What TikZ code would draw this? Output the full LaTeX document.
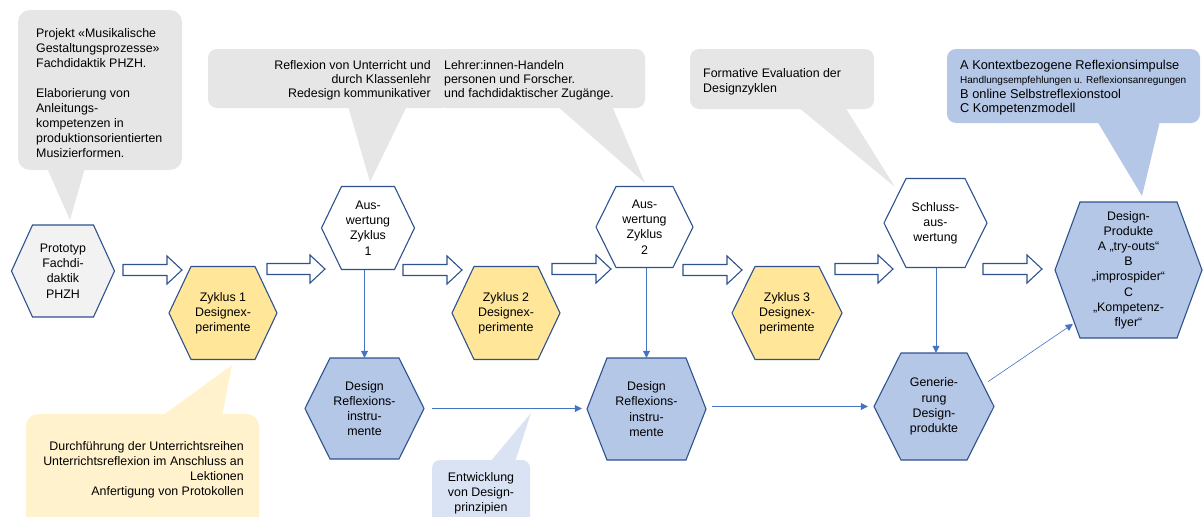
\documentclass[tikz,border=0pt]{standalone}
\usepackage{fontspec}
\setmainfont{Liberation Sans}
\usetikzlibrary{calc,arrows.meta}
\definecolor{hexline}{HTML}{2F528F}
\definecolor{cgray}{HTML}{E7E6E6}
\definecolor{cyellow}{HTML}{FFF2CC}
\definecolor{hyellow}{HTML}{FFE699}
\definecolor{hblue}{HTML}{B4C7E7}
\definecolor{clblue}{HTML}{DAE3F3}
\definecolor{hgray}{HTML}{F2F2F2}
\definecolor{conn}{HTML}{4472C4}
\tikzset{
  hexedge/.style={draw=hexline, line width=1.1pt, line join=miter},
  hexbox/.style={inner sep=0pt, align=center, font=\fontsize{12.4}{15.2}\selectfont},
  txt/.style={inner sep=0pt, font=\fontsize{12.4}{15}\selectfont},
  blockarr/.style={draw=hexline, fill=white, line width=1.1pt, line join=miter},
  thinarr/.style={draw=conn, line width=0.8pt, -{Triangle[width=7pt,length=7pt]}},
}
\newcommand{\myhex}[8]{%
  \filldraw[hexedge, fill=#7] ({#2-#4/2},#3) -- ({#2-#4/2+#6},{#3-#5/2}) -- ({#2+#4/2-#6},{#3-#5/2}) -- ({#2+#4/2},#3) -- ({#2+#4/2-#6},{#3+#5/2}) -- ({#2-#4/2+#6},{#3+#5/2}) -- cycle;
  \node[hexbox, minimum width=#4pt, minimum height=#5pt] (#1) at (#2,#3) {#8};
}
\newcommand{\myblockarr}[3]{%
  \filldraw[blockarr] (#1,{#3-5.5}) -- ({#2-15},{#3-5.5}) -- ({#2-15},{#3-14}) -- (#2,#3) -- ({#2-15},{#3+14}) -- ({#2-15},{#3+5.5}) -- (#1,{#3+5.5}) -- cycle;
}
\begin{document}
\begin{tikzpicture}[x=1pt,y=-1pt]
\useasboundingbox (0,0) rectangle (1203,517);

% ---------- callouts ----------
% top-left
\fill[cgray, rounded corners=12] (18,10) rectangle (182,170);
\fill[cgray] (47,168) -- (70,220) -- (85,168) -- cycle;
\node[txt, anchor=north west, align=left] (c1) at (36,28.5)
  {Projekt «Musikalische\\Gestaltungsprozesse»\\Fachdidaktik PHZH.\\[15pt]Elaborierung von\\Anleitungs-\\kompetenzen in\\produktionsorientierten\\Musizierformen.};

% middle two
\fill[cgray, rounded corners=9] (208,49) rectangle (450,108);
\fill[cgray] (348,106) -- (370,182) -- (407,106) -- cycle;
\fill[cgray, rounded corners=9] (437,49) rectangle (645,108);
\fill[cgray] (557,106) -- (645,183) -- (612,106) -- cycle;
\node[txt, anchor=north east, align=right, font=\fontsize{12.4}{14}\selectfont] (c2) at (431,60.5)
  {Reflexion von Unterricht und\\durch Klassenlehr\\Redesign kommunikativer};
\node[txt, anchor=north west, align=left, font=\fontsize{12.4}{14}\selectfont] (c3) at (444,60.5)
  {Lehrer:innen-Handeln\\personen und Forscher.\\und fachdidaktischer Zugänge.};

% formative
\fill[cgray, rounded corners=9] (690,49) rectangle (874,109);
\fill[cgray] (798,107) -- (895,187) -- (845,107) -- cycle;
\node[txt, anchor=north west, align=left] (c4) at (703,68.5)
  {Formative Evaluation der\\Designzyklen};

% blue top-right
\fill[hblue, rounded corners=9] (947,49) rectangle (1200,123);
\fill[hblue] (1097,121) -- (1142,196) -- (1160,121) -- cycle;
\node[txt, anchor=north west, align=left, font=\fontsize{12.8}{14.3}\selectfont] (c5) at (960,60)
  {A Kontextbezogene Reflexionsimpulse\\{\fontsize{10}{12}\selectfont Handlungsempfehlungen u. Reflexionsanregungen}\\B online Selbstreflexionstool\\C Kompetenzmodell};

% yellow bottom-left
\fill[cyellow, rounded corners=12] (26,414) rectangle (259,530);
\fill[cyellow] (162,416) -- (232,365) -- (222,416) -- cycle;
\node[txt, anchor=north east, align=right] (c6) at (244,441.5)
  {Durchführung der Unterrichtsreihen\\Unterrichtsreflexion im Anschluss an\\Lektionen\\Anfertigung von Protokollen};

% light blue bottom
\fill[clblue, rounded corners=8] (432,460) rectangle (530,530);
\fill[clblue] (490,462) -- (531,413) -- (515,462) -- cycle;
\node[txt, anchor=north, align=center] (c7) at (481,472.5)
  {Entwicklung\\von Design-\\prinzipien};

% ---------- hexagons ----------
\myhex{proto}{63}{271}{103}{92}{21}{hgray}{Prototyp\\Fachdi-\\daktik\\PHZH}
\myhex{z1}{223}{313}{108}{93}{22}{hyellow}{Zyklus 1\\Designex-\\perimente}
\myhex{aus1}{368}{228}{93}{83}{20}{white}{Aus-\\wertung\\Zyklus\\1}
\myhex{z2}{506}{313}{108}{93}{22}{hyellow}{Zyklus 2\\Designex-\\perimente}
\myhex{aus2}{644.5}{227}{97}{81}{20}{white}{Aus-\\wertung\\Zyklus\\2}
\myhex{z3}{787}{313}{110}{93}{23}{hyellow}{Zyklus 3\\Designex-\\perimente}
\myhex{schluss}{935.5}{223}{103}{89}{22}{white}{Schluss-\\aus-\\wertung}
\myhex{dp}{1128.5}{270}{147}{136}{25}{hblue}{Design-\\Produkte\\A „try-outs“\\B\\„improspider“\\C\\„Kompetenz-\\flyer“}
\myhex{refl1}{364.5}{408.5}{119}{101}{25}{hblue}{Design\\Reflexions-\\instru-\\mente}
\myhex{refl2}{646.5}{409}{119}{102}{20}{hblue}{Design\\Reflexions-\\instru-\\mente}
\myhex{gen}{934}{406.5}{120}{107}{27}{hblue}{Generie-\\rung\\Design-\\produkte}

% ---------- block arrows ----------
\myblockarr{123}{182}{270}
\myblockarr{267}{325}{269}
\myblockarr{403}{462}{270}
\myblockarr{552}{611}{269}
\myblockarr{683}{742}{270}
\myblockarr{835}{893}{269}
\myblockarr{983}{1042}{269}

% ---------- thin connectors ----------
\draw[thinarr] (refl1.north |- aus1.south) -- (refl1.north);
\draw[thinarr] (refl2.north |- aus2.south) -- (refl2.north);
\draw[thinarr] ([xshift=2pt]gen.north |- schluss.south) -- ([xshift=2pt]gen.north);
\draw[thinarr, shorten <=8pt, shorten >=5pt] (refl1.east) -- (refl1.east -| refl2.west);
\draw[thinarr, shorten <=6pt, shorten >=6pt] (refl2.east |- gen.west) -- (gen.west);
\draw[thinarr, line width=0.6pt] ($(gen.east)+(-6,-25)$) -- ($(dp.west)+(18,54)$);
\end{tikzpicture}
\end{document}
